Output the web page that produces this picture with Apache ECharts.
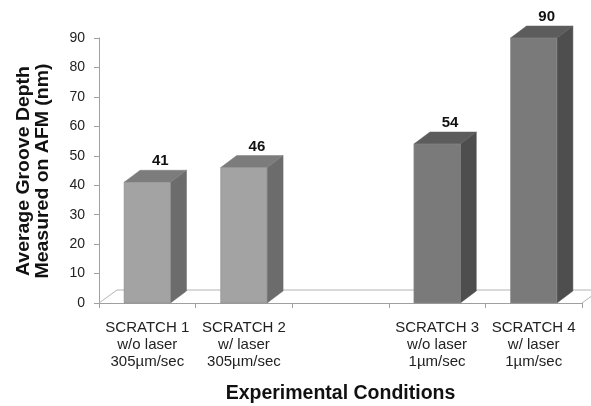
<!DOCTYPE html>
<html>
<head>
<meta charset="utf-8">
<script src="https://cdn.jsdelivr.net/npm/echarts@6/dist/echarts.min.js"></script>
<style>
  html, body { margin: 0; padding: 0; background: #fff; }
  #chart { width: 591px; height: 406px; }
</style>
</head>
<body>
<div id="chart"></div>
<script>
// Groove depth per scratch condition (blank slot separates the two scan speeds)
const categories = [
  'SCRATCH 1\nw/o laser\n305µm/sec',
  'SCRATCH 2\nw/ laser\n305µm/sec',
  '',
  'SCRATCH 3\nw/o laser\n1µm/sec',
  'SCRATCH 4\nw/ laser\n1µm/sec'
];
const depths = [41, 46, null, 54, 90];
const yTicks = { min: 0, max: 90, interval: 10 };

// Face shades: fast-scan bars are lighter, slow-scan bars darker
const shadeLight = { front: '#a3a3a3', top: '#7c7c7c', side: '#6c6c6c' };
const shadeDark  = { front: '#7a7a7a', top: '#5c5c5c', side: '#4e4e4e' };

const BAR_DEPTH = { dx: 16, dy: -12 };
const FLOOR_DEPTH = { dx: 18, dy: -13 };

const chart = echarts.init(document.getElementById('chart'), null, { renderer: 'canvas' });

function renderFloor(params, api) {
  const cs = params.coordSys;
  const xl = cs.x, xr = cs.x + cs.width, yb = cs.y + cs.height;
  const stroke = { stroke: '#b4b4b4', lineWidth: 1, fill: null };
  return {
    type: 'group',
    children: [
      { type: 'polyline', shape: { points: [[xl, yb], [xl + FLOOR_DEPTH.dx, yb + FLOOR_DEPTH.dy], [xr + FLOOR_DEPTH.dx, yb + FLOOR_DEPTH.dy]] }, style: stroke },
      { type: 'line', shape: { x1: xr, y1: yb, x2: xr + FLOOR_DEPTH.dx, y2: yb + FLOOR_DEPTH.dy }, style: stroke }
    ]
  };
}

function renderBar(params, api) {
  const idx = api.value(0);
  const val = api.value(1);
  const top = api.coord([idx, val]);
  const base = api.coord([idx, 0]);
  const band = api.size([1, 0])[0];
  const w = band * 0.48;
  const x0 = top[0] - w / 2, x1 = top[0] + w / 2;
  const yt = top[1], yb = base[1];
  const dx = BAR_DEPTH.dx, dy = BAR_DEPTH.dy;
  const shade = idx < 2 ? shadeLight : shadeDark;
  return {
    type: 'group',
    children: [
      { type: 'polygon', shape: { points: [[x1, yt], [x1 + dx, yt + dy], [x1 + dx, yb + dy], [x1, yb]] },
        style: { fill: shade.side, stroke: shade.side, lineWidth: 0.5 } },
      { type: 'polygon', shape: { points: [[x0, yt], [x0 + dx, yt + dy], [x1 + dx, yt + dy], [x1, yt]] },
        style: { fill: shade.top, stroke: shade.top, lineWidth: 0.5 } },
      { type: 'rect', shape: { x: x0, y: yt, width: w, height: yb - yt },
        style: { fill: shade.front, stroke: '#8a8a8a', lineWidth: 0.6 } },
      { type: 'text', x: (x0 + x1) / 2 + dx / 2 + 5, y: yt + dy - 9,
        style: { text: String(val), fill: '#111', font: 'bold 15px "Liberation Sans", Arial, sans-serif',
                 align: 'center', verticalAlign: 'middle' } }
    ]
  };
}

const barData = [];
depths.forEach((v, i) => { if (v != null) barData.push([i, v]); });

chart.setOption({
  backgroundColor: '#ffffff',
  animation: false,
  grid: { left: 99, right: 9, top: 38, bottom: 103, containLabel: false, outerBoundsMode: 'none' },
  xAxis: {
    type: 'category',
    data: categories,
    boundaryGap: true,
    axisLine: { lineStyle: { color: '#a0a0a0', width: 1 } },
    axisTick: { show: true, length: 5, interval: 0, lineStyle: { color: '#a0a0a0' } },
    axisLabel: { interval: 0, margin: 16, fontSize: 15, lineHeight: 17, color: '#222',
                 fontFamily: '"Liberation Sans", Arial, sans-serif' },
    name: 'Experimental Conditions',
    nameLocation: 'middle',
    nameGap: 81,
    nameTextStyle: { fontSize: 19.5, fontWeight: 'bold', color: '#111',
                     fontFamily: '"Liberation Sans", Arial, sans-serif' }
  },
  yAxis: {
    type: 'value',
    min: yTicks.min, max: yTicks.max, interval: yTicks.interval,
    axisLine: { show: true, lineStyle: { color: '#a0a0a0', width: 1 } },
    axisTick: { show: true, length: 5, lineStyle: { color: '#a0a0a0' } },
    splitLine: { show: false },
    axisLabel: { margin: 14, fontSize: 14, color: '#222',
                 fontFamily: '"Liberation Sans", Arial, sans-serif' }
  },
  graphic: [{
    type: 'text',
    x: 34, y: 171,
    rotation: Math.PI / 2,
    scaleX: 1.08,
    style: {
      text: 'Average Groove Depth\nMeasured on AFM (nm)',
      font: 'bold 18px "Liberation Sans", Arial, sans-serif',
      lineHeight: 19,
      fill: '#111',
      align: 'center',
      verticalAlign: 'middle'
    }
  }],
  series: [
    { type: 'custom', name: 'floor', renderItem: renderFloor, data: [[0, 0]], z: 1, silent: true, clip: false },
    { type: 'custom', name: 'depth', renderItem: renderBar, data: barData, encode: { x: 0, y: 1 }, z: 3, clip: false }
  ]
});
</script>
</body>
</html>
